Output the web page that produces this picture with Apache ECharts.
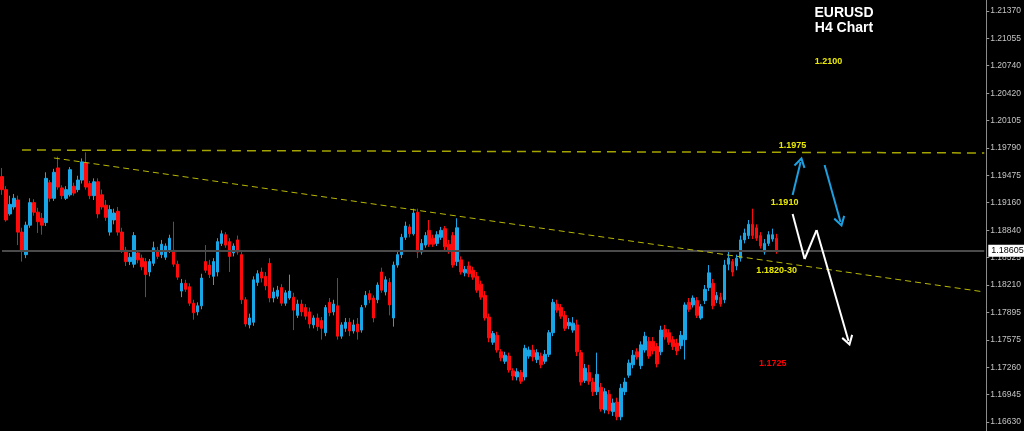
<!DOCTYPE html>
<html>
<head>
<meta charset="utf-8">
<script src="https://cdn.jsdelivr.net/npm/echarts@6/dist/echarts.min.js"></script>
<style>
html,body{margin:0;padding:0;background:#000;}
#chart{width:1024px;height:431px;}
</style>
</head>
<body>
<div id="chart"></div>
<script>
// ---- data (EURUSD H4, [open, close, low, high]) ----
const candles = [
[1.1946,1.1931,1.1925,1.1956],[1.1931,1.1896,1.1894,1.1935],[1.1903,1.1914,1.1901,1.1924],[1.1911,1.1921,1.1908,1.1926],
[1.1919,1.1882,1.1867,1.1924],[1.1882,1.1861,1.1848,1.1887],[1.1856,1.1890,1.1852,1.1894],[1.1890,1.1916,1.1887,1.1921],
[1.1916,1.1905,1.1901,1.1920],[1.1905,1.1894,1.1881,1.1910],[1.1898,1.1890,1.1879,1.1904],[1.1893,1.1944,1.1889,1.1951],
[1.1939,1.1921,1.1917,1.1942],[1.1921,1.1951,1.1918,1.1955],[1.1956,1.1934,1.1931,1.1969],[1.1933,1.1924,1.1920,1.1936],
[1.1921,1.1931,1.1919,1.1935],[1.1925,1.1954,1.1923,1.1957],[1.1935,1.1927,1.1924,1.1939],[1.1931,1.1942,1.1928,1.1947],
[1.1942,1.1963,1.1938,1.1967],[1.1962,1.1934,1.1931,1.1974],[1.1938,1.1924,1.1920,1.1941],[1.1924,1.1940,1.1919,1.1944],
[1.1940,1.1903,1.1898,1.1944],[1.1925,1.1911,1.1908,1.1931],[1.1913,1.1899,1.1895,1.1919],[1.1882,1.1908,1.1878,1.1913],
[1.1896,1.1904,1.1891,1.1909],[1.1906,1.1882,1.1878,1.1911],[1.1882,1.1861,1.1858,1.1887],[1.1861,1.1848,1.1843,1.1865],
[1.1848,1.1853,1.1844,1.1858],[1.1845,1.1878,1.1841,1.1882],[1.1858,1.1850,1.1846,1.1861],[1.1852,1.1842,1.1838,1.1856],
[1.1848,1.1833,1.1807,1.1852],[1.1836,1.1848,1.1831,1.1851],[1.1846,1.1864,1.1843,1.1871],[1.1861,1.1854,1.1851,1.1865],
[1.1856,1.1868,1.1852,1.1873],[1.1853,1.1866,1.1850,1.1869],[1.1861,1.1875,1.1858,1.1879],[1.1861,1.1845,1.1842,1.1894],
[1.1845,1.1830,1.1827,1.1849],[1.1814,1.1823,1.1807,1.1828],[1.1823,1.1816,1.1813,1.1827],[1.1819,1.1800,1.1797,1.1823],
[1.1800,1.1789,1.1781,1.1804],[1.1790,1.1797,1.1786,1.1801],[1.1797,1.1829,1.1793,1.1834],[1.1848,1.1838,1.1835,1.1867],
[1.1844,1.1833,1.1829,1.1850],[1.1831,1.1848,1.1821,1.1852],[1.1836,1.1871,1.1831,1.1875],[1.1869,1.1880,1.1866,1.1884],
[1.1879,1.1867,1.1864,1.1882],[1.1871,1.1854,1.1836,1.1875],[1.1858,1.1866,1.1854,1.1869],[1.1873,1.1859,1.1856,1.1878],
[1.1856,1.1804,1.1799,1.1859],[1.1804,1.1776,1.1773,1.1807],[1.1775,1.1783,1.1771,1.1788],[1.1778,1.1827,1.1774,1.1831],
[1.1824,1.1834,1.1820,1.1838],[1.1836,1.1829,1.1824,1.1841],[1.1831,1.1820,1.1815,1.1836],[1.1846,1.1806,1.1801,1.1852],
[1.1806,1.1813,1.1801,1.1818],[1.1808,1.1815,1.1805,1.1820],[1.1818,1.1800,1.1797,1.1822],[1.1800,1.1812,1.1797,1.1815],
[1.1806,1.1814,1.1804,1.1833],[1.1807,1.1792,1.1769,1.1812],[1.1786,1.1799,1.1783,1.1804],[1.1799,1.1790,1.1785,1.1804],
[1.1795,1.1785,1.1781,1.1799],[1.1790,1.1776,1.1771,1.1795],[1.1775,1.1783,1.1771,1.1786],[1.1783,1.1773,1.1768,1.1788],
[1.1780,1.1771,1.1758,1.1784],[1.1766,1.1795,1.1762,1.1798],[1.1801,1.1789,1.1785,1.1806],[1.1790,1.1799,1.1786,1.1804],
[1.1797,1.1762,1.1758,1.1829],[1.1762,1.1775,1.1759,1.1778],[1.1771,1.1778,1.1767,1.1783],[1.1778,1.1768,1.1762,1.1783],
[1.1768,1.1775,1.1765,1.1781],[1.1776,1.1767,1.1758,1.1783],[1.1769,1.1795,1.1766,1.1798],[1.1798,1.1809,1.1795,1.1814],
[1.1811,1.1804,1.1800,1.1815],[1.1806,1.1783,1.1778,1.1809],[1.1804,1.1821,1.1800,1.1824],[1.1836,1.1815,1.1812,1.1841],
[1.1813,1.1827,1.1809,1.1831],[1.1824,1.1798,1.1786,1.1829],[1.1783,1.1844,1.1773,1.1848],[1.1844,1.1856,1.1841,1.1859],
[1.1856,1.1876,1.1852,1.1880],[1.1876,1.1889,1.1873,1.1894],[1.1888,1.1880,1.1876,1.1891],[1.1880,1.1904,1.1878,1.1909],
[1.1905,1.1859,1.1852,1.1909],[1.1859,1.1869,1.1856,1.1874],[1.1867,1.1878,1.1864,1.1882],[1.1884,1.1868,1.1865,1.1896],
[1.1875,1.1868,1.1865,1.1879],[1.1869,1.1879,1.1866,1.1883],[1.1876,1.1884,1.1873,1.1888],[1.1886,1.1865,1.1861,1.1889],
[1.1868,1.1860,1.1857,1.1873],[1.1878,1.1844,1.1841,1.1882],[1.1848,1.1887,1.1843,1.1898],[1.1850,1.1836,1.1833,1.1854],
[1.1835,1.1839,1.1831,1.1843],[1.1843,1.1834,1.1830,1.1848],[1.1838,1.1830,1.1827,1.1842],[1.1831,1.1815,1.1812,1.1836],
[1.1822,1.1807,1.1804,1.1826],[1.1809,1.1783,1.1780,1.1814],[1.1784,1.1760,1.1755,1.1788],[1.1755,1.1765,1.1752,1.1768],
[1.1763,1.1746,1.1743,1.1767],[1.1744,1.1737,1.1733,1.1747],[1.1733,1.1740,1.1730,1.1744],[1.1739,1.1723,1.1720,1.1743],
[1.1722,1.1716,1.1711,1.1725],[1.1715,1.1721,1.1711,1.1725],[1.1720,1.1710,1.1707,1.1723],[1.1715,1.1748,1.1711,1.1752],
[1.1739,1.1746,1.1736,1.1750],[1.1746,1.1738,1.1733,1.1752],[1.1735,1.1743,1.1731,1.1747],[1.1739,1.1729,1.1725,1.1743],
[1.1733,1.1741,1.1730,1.1746],[1.1741,1.1766,1.1738,1.1769],[1.1766,1.1801,1.1762,1.1805],[1.1799,1.1792,1.1789,1.1804],
[1.1795,1.1785,1.1782,1.1799],[1.1786,1.1771,1.1768,1.1791],[1.1774,1.1778,1.1770,1.1783],[1.1769,1.1777,1.1766,1.1784],
[1.1775,1.1744,1.1739,1.1781],[1.1743,1.1709,1.1705,1.1746],[1.1711,1.1725,1.1708,1.1730],[1.1720,1.1710,1.1706,1.1729],
[1.1709,1.1698,1.1693,1.1714],[1.1698,1.1718,1.1694,1.1743],[1.1703,1.1678,1.1675,1.1708],[1.1677,1.1698,1.1673,1.1702],
[1.1695,1.1676,1.1672,1.1700],[1.1675,1.1685,1.1670,1.1690],[1.1686,1.1669,1.1665,1.1691],[1.1669,1.1702,1.1665,1.1707],
[1.1698,1.1709,1.1694,1.1714],[1.1717,1.1731,1.1714,1.1735],[1.1729,1.1740,1.1725,1.1746],[1.1744,1.1738,1.1735,1.1748],
[1.1728,1.1752,1.1724,1.1756],[1.1746,1.1762,1.1743,1.1767],[1.1756,1.1739,1.1736,1.1761],[1.1756,1.1745,1.1741,1.1761],
[1.1750,1.1730,1.1726,1.1754],[1.1744,1.1769,1.1740,1.1774],[1.1770,1.1761,1.1758,1.1775],[1.1766,1.1755,1.1752,1.1770],
[1.1758,1.1750,1.1746,1.1762],[1.1754,1.1745,1.1740,1.1759],[1.1751,1.1763,1.1747,1.1768],[1.1758,1.1798,1.1735,1.1801],
[1.1801,1.1793,1.1790,1.1806],[1.1798,1.1806,1.1795,1.1809],[1.1803,1.1786,1.1783,1.1807],[1.1783,1.1796,1.1781,1.1799],
[1.1803,1.1816,1.1799,1.1821],[1.1818,1.1835,1.1814,1.1844],[1.1823,1.1797,1.1793,1.1828],[1.1804,1.1809,1.1800,1.1813],
[1.1807,1.1799,1.1796,1.1812],[1.1804,1.1844,1.1800,1.1850],[1.1845,1.1852,1.1838,1.1859],[1.1848,1.1836,1.1831,1.1851],
[1.1843,1.1852,1.1838,1.1856],[1.1852,1.1873,1.1848,1.1878],[1.1873,1.1881,1.1869,1.1886],[1.1878,1.1891,1.1874,1.1896],
[1.1891,1.1878,1.1874,1.1909],[1.1887,1.1875,1.1872,1.1891],[1.1878,1.1866,1.1863,1.1882],[1.1859,1.1869,1.1856,1.1874],
[1.1869,1.1879,1.1866,1.1883],[1.1874,1.1879,1.1871,1.1886],[1.1875,1.1860,1.1857,1.1880]
];
const slotCount = 247;               // bar slots incl. empty right margin
const categories = Array.from({length: slotCount}, (_, i) => String(i));

const yTicks = [1.21370,1.21055,1.20740,1.20420,1.20105,1.19790,1.19475,1.19160,
                1.18840,1.18525,1.18210,1.17895,1.17575,1.17260,1.16945,1.16630];
const yMin = 1.165263, yMax = 1.214969;
const lastPrice = 1.18605;

// annotation anchors: [bar index, price]
const priceLine = [[0, lastPrice], [246, lastPrice]];
const resistanceLine = [[5, 1.19767], [246, 1.19733]];
const trendLine = [[13, 1.19675], [246, 1.18130]];
const blueUpArrow = [[198, 1.19248], [200, 1.19629]];
const blueDownArrow = [[206, 1.19594], [210, 1.18937]];
const whitePath = [[198, 1.19029], [201, 1.18510], [204, 1.18844], [212, 1.17564]];
const noteTexts = ['1.2100', '1.1975', '1.1910', '1.1820-30', '1.1725'];
const noteAnchors = [[207, 1.20782], [198, 1.19813], [196, 1.19167], [194, 1.18372], [193, 1.17310]];

// ---- styles ----
const BULL = '#19a6e6', BEAR = '#ff0a0a';
const noteColors = ['#eaea00', '#eaea00', '#eaea00', '#eaea00', '#ff0000'];
const chevron = 'path://M5,0 L10,9 L8.6,10.2 L5,3.6 L1.4,10.2 L0,9 Z';

function seg(a, b, style, arrow, label) {
  const end = {coord: b, lineStyle: style};
  if (arrow) { end.symbol = chevron; end.symbolSize = [12, 11]; }
  const start = {coord: a, lineStyle: style, symbol: 'none'};
  if (label) { start.label = label; end.label = label; }
  return [start, end];
}
const blueStyle = {color: '#1d9fe0', width: 2, type: 'solid'};
const whiteStyle = {color: '#ffffff', width: 2, type: 'solid'};
const lineData = [
  seg(priceLine[0], priceLine[1], {color: '#4a4a4a', width: 2, type: 'solid'}, false,
      {show: true, position: 'end', formatter: lastPrice.toFixed(5), color: '#000',
       backgroundColor: '#ffffff', fontSize: 9, fontFamily: 'Liberation Sans',
       padding: [2, 3, 1, 3], distance: 4}),
  seg(resistanceLine[0], resistanceLine[1], {color: '#a4a400', width: 1.5, type: [9, 6]}),
  seg(trendLine[0], trendLine[1], {color: '#b8b800', width: 1, type: [6, 4]}),
  seg(blueUpArrow[0], blueUpArrow[1], blueStyle, true),
  seg(blueDownArrow[0], blueDownArrow[1], blueStyle, true)
];
for (let k = 0; k < whitePath.length - 1; k++) {
  lineData.push(seg(whitePath[k], whitePath[k + 1], whiteStyle, k === whitePath.length - 2));
}

const chart = echarts.init(document.getElementById('chart'), null, {renderer: 'canvas'});
chart.setOption({
  backgroundColor: '#000000',
  animation: false,
  grid: {left: 0, right: 35, top: 0, bottom: 0, containLabel: false},
  xAxis: {
    type: 'category', data: categories, boundaryGap: true,
    axisLine: {show: false}, axisTick: {show: false}, axisLabel: {show: false}, splitLine: {show: false}
  },
  yAxis: {
    type: 'value', position: 'right', min: yMin, max: yMax, scale: true,
    splitLine: {show: false},
    axisLine: {show: true, lineStyle: {color: '#8a8a8a', width: 1}},
    axisTick: {show: true, length: 3, customValues: yTicks, lineStyle: {color: '#9a9a9a'}},
    axisLabel: {show: true, customValues: yTicks, formatter: v => v.toFixed(5),
                color: '#c4c4c4', fontSize: 8.5, fontFamily: 'Liberation Sans', margin: 4}
  },
  graphic: [
    {type: 'text', x: 844, y: 13, style: {text: 'EURUSD', fill: '#ffffff', textAlign: 'center',
      textVerticalAlign: 'middle', font: 'bold 14px "Liberation Sans", Arial, sans-serif'}},
    {type: 'text', x: 844, y: 28, style: {text: 'H4 Chart', fill: '#ffffff', textAlign: 'center',
      textVerticalAlign: 'middle', font: 'bold 14px "Liberation Sans", Arial, sans-serif'}}
  ],
  series: [{
    type: 'candlestick',
    data: candles,
    barWidth: 3,
    itemStyle: {color: BULL, color0: BEAR, borderColor: BULL, borderColor0: BEAR, borderWidth: 1},
    markLine: {
      silent: true, animation: false, symbol: ['none', 'none'],
      label: {show: false},
      emphasis: {disabled: true},
      data: lineData
    },
    markPoint: {
      silent: true, animation: false,
      symbol: 'rect', symbolSize: 1, itemStyle: {color: 'rgba(0,0,0,0)'},
      data: noteTexts.map((t, k) => ({
        coord: noteAnchors[k], value: t,
        label: {show: true, position: 'inside', formatter: t, color: noteColors[k],
                fontSize: 9, fontWeight: 'bold', fontFamily: 'Liberation Sans'}
      }))
    }
  }]
});
</script>
</body>
</html>
